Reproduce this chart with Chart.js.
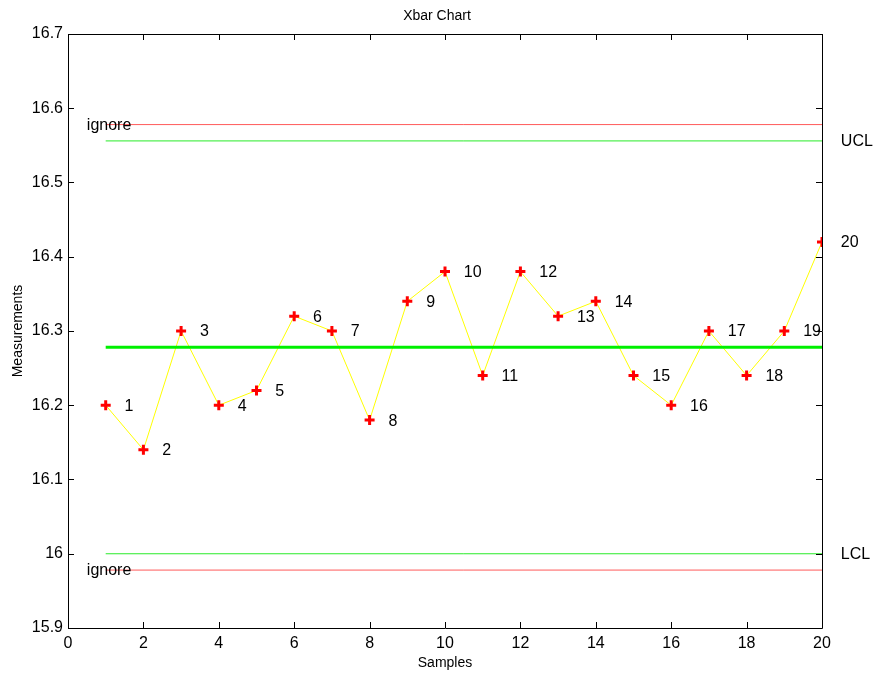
<!DOCTYPE html>
<html>
<head>
<meta charset="utf-8">
<script src="https://cdn.jsdelivr.net/npm/chart.js@4.4.0/dist/chart.umd.min.js"></script>
<style>
  body { margin: 0; background: #fff; }
  canvas { display: block; }
</style>
</head>
<body>
<canvas id="xbar" width="877" height="674"></canvas>
<script>
// donnees
const samples = [1, 2, 3, 4, 5, 6, 7, 8, 9, 10, 11, 12, 13, 14, 15, 16, 17, 18, 19, 20];
const means = [16.20, 16.14, 16.30, 16.20, 16.22, 16.32, 16.30, 16.18, 16.34, 16.38,
               16.24, 16.38, 16.32, 16.34, 16.24, 16.20, 16.30, 16.24, 16.30, 16.42];
const centerLine = 16.278;
const ucl = 16.556;
const lcl = 16.0;
const ignoreLimits = [16.578, 15.978];
const limitLabels = ["UCL", "LCL"];
const xTicks = [0, 2, 4, 6, 8, 10, 12, 14, 16, 18, 20];
const yTicks = [15.9, 16, 16.1, 16.2, 16.3, 16.4, 16.5, 16.6, 16.7];

const FONT = '"Liberation Sans", Arial, Helvetica, sans-serif';

function horizontal(y) {
    return [{ x: samples[0], y: y }, { x: samples[samples.length - 1], y: y }];
}

// plugin pour le cadre, les graduations internes et les textes
const decorations = {
    id: "decorations",
    afterDraw(chart) {
        const ctx = chart.ctx;
        const xs = chart.scales.x;
        const ys = chart.scales.y;
        const a = chart.chartArea;
        ctx.save();
        ctx.strokeStyle = "#000";
        ctx.lineWidth = 1;
        ctx.beginPath();
        ctx.rect(a.left + 0.5, a.top + 0.5, a.right - a.left, a.bottom - a.top);
        ctx.stroke();
        ctx.beginPath();
        xTicks.forEach(t => {
            const px = Math.round(xs.getPixelForValue(t)) + 0.5;
            ctx.moveTo(px, a.bottom); ctx.lineTo(px, a.bottom - 6);
            ctx.moveTo(px, a.top); ctx.lineTo(px, a.top + 6);
        });
        yTicks.forEach(t => {
            const py = Math.round(ys.getPixelForValue(t)) + 0.5;
            ctx.moveTo(a.left, py); ctx.lineTo(a.left + 6, py);
            ctx.moveTo(a.right, py); ctx.lineTo(a.right - 6, py);
        });
        ctx.stroke();

        ctx.fillStyle = "#000";
        ctx.font = "16px " + FONT;
        ctx.textAlign = "left";
        ctx.textBaseline = "middle";
        // numeros des echantillons
        samples.forEach((s, i) => {
            ctx.fillText(String(s), xs.getPixelForValue(s + 0.5), ys.getPixelForValue(means[i]) + 1);
        });
        // limites de controle
        ctx.fillText(limitLabels[0], xs.getPixelForValue(20.5), ys.getPixelForValue(ucl) + 1);
        ctx.fillText(limitLabels[1], xs.getPixelForValue(20.5), ys.getPixelForValue(lcl) + 1);
        ignoreLimits.forEach(v => {
            ctx.fillText("ignore", xs.getPixelForValue(0.5), ys.getPixelForValue(v) + 1);
        });

        // titres
        ctx.font = "14px " + FONT;
        ctx.textAlign = "center";
        ctx.fillText("Xbar Chart", 437, 16);
        ctx.fillText("Samples", (a.left + a.right) / 2, 663);
        ctx.translate(18, (a.top + a.bottom) / 2);
        ctx.rotate(-Math.PI / 2);
        ctx.fillText("Measurements", 0, 0);
        ctx.restore();
    }
};

const config = {
    type: "line",
    data: {
        datasets: [
            {
                data: horizontal(ignoreLimits[0]),
                borderColor: "rgb(255, 90, 90)",
                borderWidth: 1,
                pointRadius: 0
            },
            {
                data: horizontal(ignoreLimits[1]),
                borderColor: "rgb(255, 90, 90)",
                borderWidth: 1,
                pointRadius: 0
            },
            {
                data: horizontal(ucl),
                borderColor: "rgb(40, 235, 40)",
                borderWidth: 1,
                pointRadius: 0
            },
            {
                data: horizontal(lcl),
                borderColor: "rgb(40, 235, 40)",
                borderWidth: 1,
                pointRadius: 0
            },
            {
                data: horizontal(centerLine),
                borderColor: "rgb(0, 240, 0)",
                borderWidth: 3,
                pointRadius: 0
            },
            {
                data: samples.map((s, i) => ({ x: s, y: means[i] })),
                borderColor: "rgb(255, 255, 0)",
                borderWidth: 1,
                pointStyle: "cross",
                pointRadius: 5,
                pointBorderWidth: 3,
                pointBorderColor: "rgb(255, 0, 0)",
                pointBackgroundColor: "rgb(255, 0, 0)",
                clip: 0
            }
        ]
    },
    options: {
        responsive: false,
        animation: false,
        layout: { padding: { top: 34, right: 55, left: 0, bottom: 0 } },
        plugins: { legend: { display: false }, tooltip: { enabled: false } },
        scales: {
            x: {
                type: "linear",
                min: 0,
                max: 20,
                afterBuildTicks: s => { s.ticks = xTicks.map(v => ({ value: v })); },
                afterFit: s => { s.height = 46; },
                grid: { display: false, drawTicks: false },
                border: { display: false },
                ticks: { color: "#000", padding: 6, maxRotation: 0, font: { family: FONT, size: 16 } }
            },
            y: {
                type: "linear",
                min: 15.9,
                max: 16.7,
                afterBuildTicks: s => { s.ticks = yTicks.map(v => ({ value: v })); },
                afterFit: s => { s.width = 68; },
                grid: { display: false, drawTicks: false },
                border: { display: false },
                ticks: {
                    color: "#000",
                    padding: 5,
                    font: { family: FONT, size: 16 },
                    callback: v => String(parseFloat(v.toFixed(1)))
                }
            }
        }
    },
    plugins: [decorations]
};

new Chart(document.querySelector("#xbar"), config);
</script>
</body>
</html>
